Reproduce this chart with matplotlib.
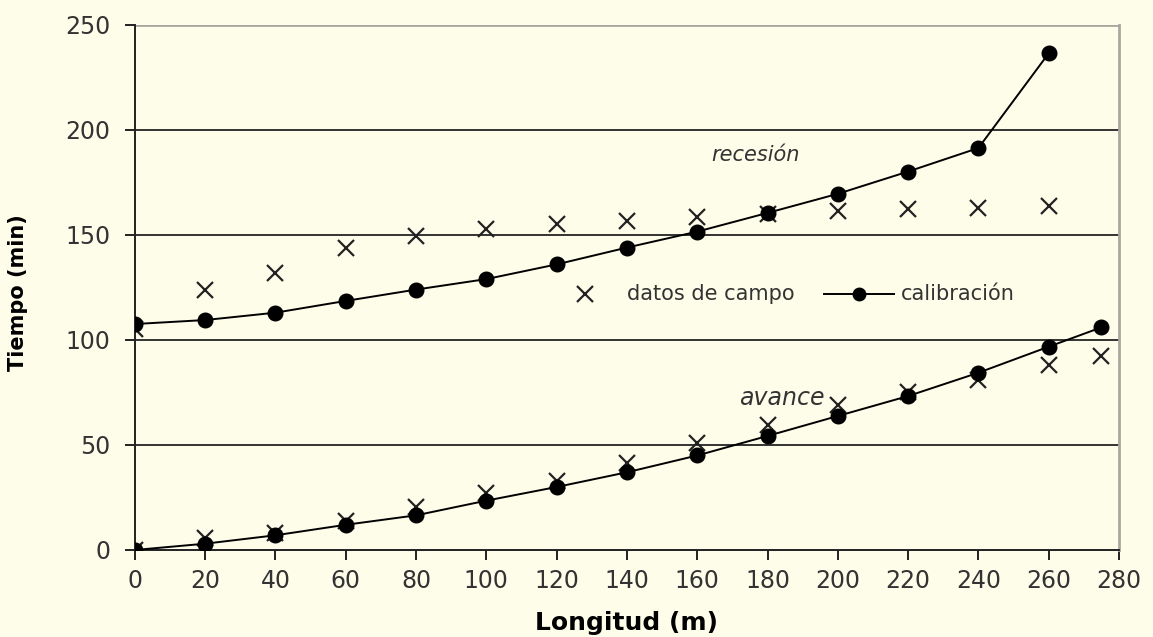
import matplotlib.pyplot as plt

# distances along the furrow (m)
longitud = [0, 20, 40, 60, 80, 100, 120, 140, 160, 180, 200, 220, 240, 260, 275]

# recession: field data and calibrated curve
rec_campo_x = [0, 20, 40, 60, 80, 100, 120, 140, 160, 180, 200, 220, 240, 260]
rec_campo = [105, 124, 132, 144, 149.5, 153, 155, 156.7, 158.5, 160, 161.4, 162.4, 163, 164]
rec_calib_x = [0, 20, 40, 60, 80, 100, 120, 140, 160, 180, 200, 220, 240, 260]
rec_calib = [107.6, 109.5, 113, 118.6, 124, 129, 136, 144, 151.6, 160.5, 169.6, 180.2, 191.4, 236.5]

# advance: field data and calibrated curve
av_campo = [0, 5.5, 8, 14, 20.5, 27, 33, 41.4, 51, 59.5, 69, 75.4, 81, 88, 92.4]
av_calib = [0, 3, 7, 12, 16.5, 23.5, 30, 37, 45, 54.3, 63.8, 73.3, 84.4, 96.8, 106]

y_ticks = [0, 50, 100, 150, 200, 250]
x_ticks = list(range(0, 281, 20))

bg = '#fefdea'
fig = plt.figure(figsize=(11.53, 6.37), dpi=100, facecolor=bg)
ax = fig.add_axes([0.117, 0.1366, 0.8535, 0.8242])
ax.set_facecolor(bg)

# horizontal grid lines
for yv in y_ticks[1:-1]:
    ax.axhline(yv, color='#333333', lw=1.4, zorder=1)
ax.axhline(250, color='#a8a8a0', lw=2, zorder=1)

ax.plot(rec_campo_x, rec_campo, 'x', color='#222222', ms=11, mew=1.6, zorder=2)
ax.plot(longitud, av_campo, 'x', color='#222222', ms=11, mew=1.6, zorder=2)
ax.plot(rec_calib_x, rec_calib, '-o', color='black', lw=1.4, ms=10.5, zorder=3)
ax.plot(longitud, av_calib, '-o', color='black', lw=1.4, ms=10.5, zorder=3)

ax.set_xlim(0, 280)
ax.set_ylim(0, 250)
ax.set_xticks(x_ticks)
ax.set_yticks(y_ticks)
ax.tick_params(axis='both', direction='out', length=7.5, width=1.4, labelsize=17,
               colors='#222222')
ax.tick_params(axis='y', pad=10)
ax.tick_params(axis='x', pad=6)
for lab in ax.get_xticklabels() + ax.get_yticklabels():
    lab.set_color('#333333')

for side in ['left', 'bottom']:
    ax.spines[side].set_color('#222222')
    ax.spines[side].set_linewidth(1.4)
ax.spines['top'].set_visible(False)
ax.spines['right'].set_color('#a8a8a0')
ax.spines['right'].set_linewidth(2)

ax.set_xlabel('Longitud (m)', fontsize=18, fontweight='bold')
ax.xaxis.set_label_coords(0.5, -0.116)
ax.set_ylabel('Tiempo (min)', fontsize=15, fontweight='bold',
              family=['Liberation Sans Narrow', 'DejaVu Sans'])
ax.yaxis.set_label_coords(-0.109, 0.49)

ax.text(164, 185, 'recesión', fontsize=15, style='italic', color='#333333')
ax.text(172, 69, 'avance', fontsize=17, style='italic', color='#333333')

# hand-made legend inside the plot
ax.plot([128], [122], 'x', color='#222222', ms=11, mew=1.6)
ax.text(140, 122, 'datos de campo', fontsize=15, color='#333333', va='center')
ax.plot([196, 216], [122, 122], '-', color='black', lw=1.4)
ax.plot([206], [122], 'o', color='black', ms=9)
ax.text(218, 122, 'calibración', fontsize=15, color='#333333', va='center')

fig.savefig('out.png', dpi=100, facecolor=bg)
